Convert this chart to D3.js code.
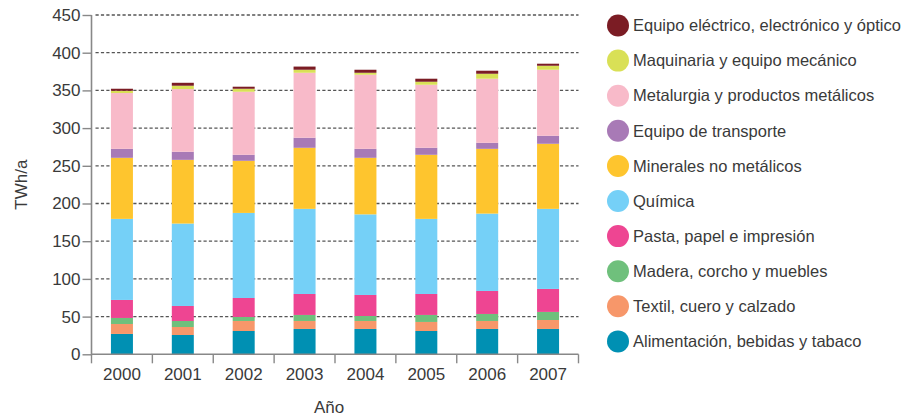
<!DOCTYPE html>
<html>
<head>
<meta charset="utf-8">
<script src="https://cdn.jsdelivr.net/npm/d3@7"></script>
<style>
  body { margin: 0; background: #fff; }
  text { font-family: "Liberation Sans", Arial, sans-serif; fill: #3a3a3a; }
</style>
</head>
<body>
<div id="my_dataviz"></div>
<script>
// years on the x axis
var years = ["2000", "2001", "2002", "2003", "2004", "2005", "2006", "2007"];

// sector names, bottom to top of the stack
var sectors = [
  "Alimentación, bebidas y tabaco",
  "Textil, cuero y calzado",
  "Madera, corcho y muebles",
  "Pasta, papel e impresión",
  "Química",
  "Minerales no metálicos",
  "Equipo de transporte",
  "Metalurgia y productos metálicos",
  "Maquinaria y equipo mecánico",
  "Equipo eléctrico, electrónico y óptico"
];

var colors = ["#0090b3", "#f7976a", "#6fc07c", "#ee4592", "#75d0f7",
              "#fec52e", "#a87ab6", "#f8bac9", "#d9e056", "#7b1c24"];

// TWh/a per sector, one value per year
var alimentacion = [27.0, 25.6, 30.9, 33.6, 33.6, 30.9, 33.6, 33.6];
var textil       = [13.2, 10.6, 13.3, 10.6, 10.6, 12.0, 10.6, 11.9];
var madera       = [ 8.0,  8.0,  5.3,  8.0,  6.6,  9.3,  9.3, 10.7];
var pasta        = [23.9, 19.9, 25.2, 27.8, 27.9, 27.8, 30.5, 30.5];
var quimica      = [107.5, 109.3, 112.8, 112.9, 106.9, 99.6, 102.6, 106.2];
var minerales    = [81.0, 84.5, 69.1, 81.0, 75.0, 85.0, 85.9, 86.3];
var transporte   = [11.9, 10.7,  8.0, 13.3, 11.9,  9.3,  8.0, 10.6];
var metalurgia   = [74.0, 83.2, 83.6, 86.2, 98.3, 83.6, 85.0, 87.6];
var maquinaria   = [ 3.0,  4.4,  4.0,  4.0,  2.6,  4.0,  6.6,  5.3];
var electrico    = [ 2.7,  3.9,  2.7,  4.2,  4.0,  4.0,  4.0,  2.7];

var series = [alimentacion, textil, madera, pasta, quimica,
              minerales, transporte, metalurgia, maquinaria, electrico];

var yTicks = [0, 50, 100, 150, 200, 250, 300, 350, 400, 450];

// set the dimensions and margins of the graph
var margin = {top: 15, left: 91.5},
    width = 487,
    height = 339.3;

var svg = d3.select("#my_dataviz")
  .append("svg")
    .attr("width", 906)
    .attr("height", 419)
  .append("g")
    .attr("transform", "translate(" + margin.left + "," + margin.top + ")");

// build rows for d3.stack
var table = years.map(function(y, i) {
  var row = {year: y};
  sectors.forEach(function(s, j) { row[s] = series[j][i]; });
  return row;
});
var stacked = d3.stack().keys(sectors)(table);

var x = d3.scaleBand().domain(years).range([0, width]).padding(0);
var y = d3.scaleLinear().domain([0, 450]).range([height, 0]);
var barW = 22;

// dashed grid lines
svg.append("g")
  .selectAll("line")
  .data(yTicks.filter(function(d) { return d > 0; }))
  .enter()
  .append("line")
    .attr("x1", 4)
    .attr("x2", width)
    .attr("y1", function(d) { return y(d); })
    .attr("y2", function(d) { return y(d); })
    .attr("stroke", "#555")
    .attr("stroke-width", 1.3)
    .attr("stroke-dasharray", "3.2,2.2");

// stacked bars
svg.append("g")
  .selectAll("g")
  .data(stacked)
  .enter()
  .append("g")
    .attr("fill", function(d, i) { return colors[i]; })
  .selectAll("rect")
  .data(function(d) { return d; })
  .enter()
  .append("rect")
    .attr("x", function(d) { return x(d.data.year) + (x.bandwidth() - barW) / 2; })
    .attr("y", function(d) { return y(d[1]); })
    .attr("width", barW)
    .attr("height", function(d) { return y(d[0]) - y(d[1]); });

// Y axis
var yAxis = svg.append("g")
  .call(d3.axisLeft(y).tickValues(yTicks).tickSize(9).tickPadding(2));
yAxis.select(".domain").attr("stroke", "#888").attr("stroke-width", 1.6)
  .attr("d", "M0," + (height + 1) + "V" + y(450));
yAxis.selectAll(".tick line").attr("stroke", "#888").attr("stroke-width", 1.4);
yAxis.selectAll(".tick text")
  .style("font-size", "17px")
  .style("font-family", "Liberation Sans, Arial, sans-serif")
  .attr("fill", "#3a3a3a");

// X axis: line, ticks at band edges, labels at centres
var xAxis = svg.append("g").attr("transform", "translate(0," + height + ")");
xAxis.append("line")
  .attr("x1", 0).attr("x2", width)
  .attr("stroke", "#888").attr("stroke-width", 1.6);
xAxis.selectAll(".edge")
  .data(years.concat(["end"]))
  .enter()
  .append("line")
    .attr("x1", function(d) { return d === "end" ? width : x(d); })
    .attr("x2", function(d) { return d === "end" ? width : x(d); })
    .attr("y1", 0).attr("y2", 9)
    .attr("stroke", "#888").attr("stroke-width", 1.4);
xAxis.selectAll(".lab")
  .data(years)
  .enter()
  .append("text")
    .attr("x", function(d) { return x(d) + x.bandwidth() / 2; })
    .attr("y", 26)
    .attr("text-anchor", "middle")
    .style("font-size", "17px")
    .text(function(d) { return d; });

// axis titles
svg.append("text")
  .attr("x", width / 2 - 6)
  .attr("y", height + 59)
  .attr("text-anchor", "middle")
  .style("font-size", "17px")
  .text("Año");

svg.append("text")
  .attr("transform", "rotate(-90)")
  .attr("x", -height / 2)
  .attr("y", -65)
  .attr("text-anchor", "middle")
  .style("font-size", "17px")
  .text("TWh/a");

// legend, top item is the top of the stack
var legend = d3.select("svg").append("g")
  .attr("transform", "translate(618,25.5)");
var items = legend.selectAll("g")
  .data(sectors.slice().reverse())
  .enter()
  .append("g")
    .attr("transform", function(d, i) { return "translate(0," + (i * 35.1) + ")"; });
items.append("circle")
  .attr("r", 11)
  .attr("fill", function(d, i) { return colors[sectors.length - 1 - i]; });
items.append("text")
  .attr("x", 15)
  .attr("dy", "0.35em")
  .style("font-size", "16.5px")
  .text(function(d) { return d; });
</script>
</body>
</html>
